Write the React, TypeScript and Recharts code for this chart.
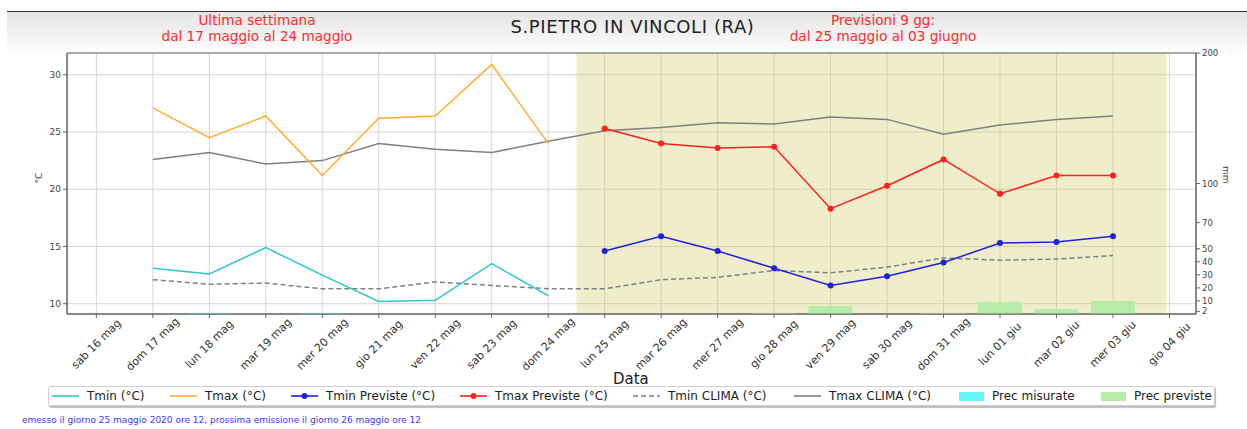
import {
  ComposedChart,
  Line,
  Bar,
  XAxis,
  YAxis,
  CartesianGrid,
  ReferenceArea,
} from "recharts";

const DAYS = [
  "sab 16 mag", "dom 17 mag", "lun 18 mag", "mar 19 mag", "mer 20 mag",
  "gio 21 mag", "ven 22 mag", "sab 23 mag", "dom 24 mag", "lun 25 mag",
  "mar 26 mag", "mer 27 mag", "gio 28 mag", "ven 29 mag", "sab 30 mag",
  "dom 31 mag", "lun 01 giu", "mar 02 giu", "mer 03 giu", "gio 04 giu",
];

const TMIN = [null, 13.1, 12.6, 14.9, 12.5, 10.2, 10.3, 13.5, 10.7, null, null, null, null, null, null, null, null, null, null, null];
const TMAX = [null, 27.1, 24.5, 26.4, 21.2, 26.2, 26.4, 30.9, 24.0, null, null, null, null, null, null, null, null, null, null, null];
const TMIN_PREV = [null, null, null, null, null, null, null, null, null, 14.6, 15.9, 14.6, 13.1, 11.6, 12.4, 13.6, 15.3, 15.4, 15.9, null];
const TMAX_PREV = [null, null, null, null, null, null, null, null, null, 25.3, 24.0, 23.6, 23.7, 18.3, 20.3, 22.6, 19.6, 21.2, 21.2, null];
const TMIN_CLIMA = [null, 12.1, 11.7, 11.8, 11.3, 11.3, 11.9, 11.6, 11.3, 11.3, 12.1, 12.3, 12.9, 12.7, 13.2, 14.0, 13.8, 13.9, 14.2, null];
const TMAX_CLIMA = [null, 22.6, 23.2, 22.2, 22.5, 24.0, 23.5, 23.2, 24.2, 25.1, 25.4, 25.8, 25.7, 26.3, 26.1, 24.8, 25.6, 26.1, 26.4, null];
const PREC_MIS = [0, 0, 0.8, 0, 0.8, 0, 0, 0, 0, 0, 0, 0, 0, 0, 0, 0, 0, 0, 0, 0];
const PREC_PREV = [0, 0, 0, 0, 0, 0, 0, 0, 0, 0, 0, 0, 0.8, 6.1, 0, 0.7, 9.2, 3.8, 9.9, 0];

const TEMP_TICKS = [10, 15, 20, 25, 30];
const MM_TICKS = [2, 10, 20, 30, 40, 50, 70, 100, 200];

const X_DOMAIN: [number, number] = [-0.52, 19.47];
const T_DOMAIN: [number, number] = [9.1, 31.9];

const FONT = "'DejaVu Sans', sans-serif";

const data = DAYS.map((d, i) => ({
  i,
  tmin: TMIN[i],
  tmax: TMAX[i],
  tminPrev: TMIN_PREV[i],
  tmaxPrev: TMAX_PREV[i],
  tminClima: TMIN_CLIMA[i],
  tmaxClima: TMAX_CLIMA[i],
  precMis: PREC_MIS[i],
  precPrev: PREC_PREV[i],
}));

// matplotlib-style: 45deg labels centred under the tick, top aligned
function DayTick(props: any) {
  const { x, y, payload } = props;
  const label = DAYS[payload.value] ?? "";
  const half = (label.length * 6.2 + 12) / (2 * Math.SQRT2);
  const cy = y - 2 + half;
  return (
    <text
      x={x}
      y={cy}
      textAnchor="middle"
      dominantBaseline="central"
      transform={`rotate(-45, ${x}, ${cy})`}
      fontSize={11}
      fill="#333"
      fontFamily={FONT}
    >
      {label}
    </text>
  );
}

const LEGEND = [
  { label: "Tmin (°C)", kind: "line", color: "#2ec8c8", left: 51 },
  { label: "Tmax (°C)", kind: "line", color: "#ffae30", left: 169 },
  { label: "Tmin Previste (°C)", kind: "dot", color: "#2020e0", left: 290 },
  { label: "Tmax Previste (°C)", kind: "dot", color: "#ff2020", left: 459 },
  { label: "Tmin CLIMA (°C)", kind: "dash", color: "#808080", left: 632 },
  { label: "Tmax CLIMA (°C)", kind: "line", color: "#808080", left: 793 },
  { label: "Prec misurate", kind: "patch", color: "#66f8f8", left: 958 },
  { label: "Prec previste", kind: "patch", color: "#b4eca8", left: 1100 },
];

function LegendSwatch({ kind, color }: { kind: string; color: string }) {
  if (kind === "patch") {
    return <div style={{ width: 25, height: 9, background: color }} />;
  }
  return (
    <svg width={27} height={10}>
      <line
        x1={0}
        y1={5}
        x2={27}
        y2={5}
        stroke={color}
        strokeWidth={1.6}
        strokeDasharray={kind === "dash" ? "5 3" : undefined}
      />
      {kind === "dot" && <circle cx={13.5} cy={5} r={3} fill={color} />}
    </svg>
  );
}

export default function App() {
  return (
    <div
      style={{
        position: "absolute",
        left: 0,
        top: 0,
        width: 1247,
        height: 429,
        background: "#fff",
        fontFamily: FONT,
        overflow: "hidden",
      }}
    >
      <div
        style={{
          position: "absolute",
          left: 7,
          top: 11,
          width: 1240,
          height: 42,
          borderTop: "1.5px solid #333",
          background: "linear-gradient(#e4e4e4, #ffffff)",
        }}
      />
      <div style={{ position: "absolute", left: 0, width: 1265, top: 16, textAlign: "center", fontSize: 18, color: "#222", letterSpacing: 0.6 }}>
        S.PIETRO IN VINCOLI (RA)
      </div>
      <div style={{ position: "absolute", left: 107, width: 300, top: 13, textAlign: "center", fontSize: 13.6, color: "#ff2a2a", lineHeight: "15.5px" }}>
        Ultima settimana
        <br />
        dal 17 maggio al 24 maggio
      </div>
      <div style={{ position: "absolute", left: 733, width: 300, top: 13, textAlign: "center", fontSize: 13.6, color: "#ff2a2a", lineHeight: "15.5px" }}>
        Previsioni 9 gg:
        <br />
        dal 25 maggio al 03 giugno
      </div>

      <div style={{ position: "absolute", left: 0, top: 0 }}>
        <ComposedChart
          width={1247}
          height={429}
          data={data}
          margin={{ top: 53, right: 21, left: 27, bottom: 55 }}
        >
          <ReferenceArea
            x1={8.5}
            x2={18.95}
            y1={T_DOMAIN[0]}
            y2={T_DOMAIN[1]}
            yAxisId="t"
            fill="#cfc85a"
            fillOpacity={0.32}
            stroke="none"
            ifOverflow="hidden"
          />
          <CartesianGrid stroke="#d6d6d6" strokeWidth={1} yAxisId="t" />
          <XAxis
            dataKey="i"
            type="number"
            domain={X_DOMAIN}
            ticks={DAYS.map((_, i) => i)}
            interval={0}
            allowDataOverflow
            tick={<DayTick />}
            tickLine={{ stroke: "#666" }}
            tickSize={4}
            axisLine={{ stroke: "#666" }}
            height={60}
          />
          <YAxis
            yAxisId="t"
            domain={T_DOMAIN}
            ticks={TEMP_TICKS}
            interval={0}
            allowDataOverflow
            width={40}
            tick={{ fontSize: 9, fill: "#444", fontFamily: FONT }}
            tickLine={{ stroke: "#666" }}
            tickSize={4}
            axisLine={{ stroke: "#666" }}
            label={{ value: "°C", angle: -90, position: "insideLeft", offset: 12, fontSize: 9, fill: "#444" }}
          />
          <YAxis
            yAxisId="mm"
            orientation="right"
            domain={[0, 200]}
            ticks={MM_TICKS}
            interval={0}
            allowDataOverflow
            width={30}
            tick={{ fontSize: 8.5, fill: "#444", fontFamily: FONT }}
            tickLine={{ stroke: "#666" }}
            tickSize={4}
            axisLine={{ stroke: "#666" }}
            label={{ value: "mm", angle: 90, position: "insideRight", offset: 0, fontSize: 9, fill: "#444" }}
          />
          <Bar dataKey="precMis" yAxisId="mm" stackId="p" fill="#66f8f8" barSize={44} isAnimationActive={false} />
          <Bar dataKey="precPrev" yAxisId="mm" stackId="p" fill="#b4eca8" barSize={44} isAnimationActive={false} />
          <Line dataKey="tminClima" yAxisId="t" stroke="#808080" strokeWidth={1.5} strokeDasharray="5 3" dot={false} isAnimationActive={false} />
          <Line dataKey="tmaxClima" yAxisId="t" stroke="#808080" strokeWidth={1.5} dot={false} isAnimationActive={false} />
          <Line dataKey="tmin" yAxisId="t" stroke="#2ec8c8" strokeWidth={1.5} dot={false} isAnimationActive={false} />
          <Line dataKey="tmax" yAxisId="t" stroke="#ffae30" strokeWidth={1.5} dot={false} isAnimationActive={false} />
          <Line dataKey="tminPrev" yAxisId="t" stroke="#2020e0" strokeWidth={1.5} dot={{ r: 3, fill: "#2020e0", stroke: "none" }} isAnimationActive={false} />
          <Line dataKey="tmaxPrev" yAxisId="t" stroke="#ff2020" strokeWidth={1.5} dot={{ r: 3, fill: "#ff2020", stroke: "none" }} isAnimationActive={false} />
          <ReferenceArea
            x1={X_DOMAIN[0]}
            x2={X_DOMAIN[1]}
            y1={T_DOMAIN[0]}
            y2={T_DOMAIN[1]}
            yAxisId="t"
            fill="none"
            stroke="#666"
            strokeWidth={1}
          />
        </ComposedChart>
      </div>

      <div style={{ position: "absolute", left: 613, top: 370, fontSize: 15, color: "#222" }}>Data</div>

      <div
        style={{
          position: "absolute",
          left: 48,
          top: 386,
          width: 1165,
          height: 18,
          border: "1px solid #cfcfcf",
          borderRadius: 2,
          boxShadow: "1px 1.5px 1px #bdbdbd",
          background: "#fff",
        }}
      >
        {LEGEND.map((it) => (
          <div
            key={it.label}
            style={{
              position: "absolute",
              left: it.left - 48,
              top: 0,
              height: 18,
              display: "flex",
              alignItems: "center",
              gap: 8,
              fontSize: 12,
              color: "#222",
              whiteSpace: "nowrap",
            }}
          >
            <LegendSwatch kind={it.kind} color={it.color} />
            <span>{it.label}</span>
          </div>
        ))}
      </div>

      <div style={{ position: "absolute", left: 22, top: 415, fontSize: 9, color: "#3a3aff" }}>
        emesso il giorno 25 maggio 2020 ore 12, prossima emissione il giorno 26 maggio ore 12
      </div>
    </div>
  );
}
